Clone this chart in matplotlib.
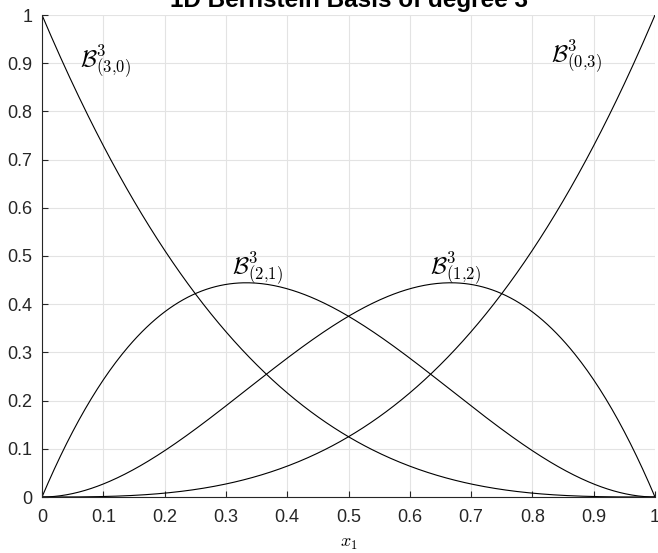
import numpy as np
import matplotlib
matplotlib.use("Agg")
import matplotlib.pyplot as plt
from math import comb

# Bernstein basis of degree 3, index pairs (i, j) with i + j = degree
degree = 3
index_pairs = [(3, 0), (2, 1), (1, 2), (0, 3)]
label_pos = {(3, 0): (0.062, 0.905), (2, 1): (0.31, 0.475),
             (1, 2): (0.633, 0.475), (0, 3): (0.83, 0.915)}
xticks = np.round(np.arange(0, 1.01, 0.1), 1)
yticks = np.round(np.arange(0, 1.01, 0.1), 1)

plt.rcParams["font.family"] = ["Liberation Sans", "DejaVu Sans"]
plt.rcParams["mathtext.fontset"] = "cm"

fig = plt.figure(figsize=(6.58, 5.53), dpi=100)
ax = fig.add_axes([42 / 658, 1 - 497 / 553, 613 / 658, 482 / 553])

x = np.linspace(0, 1, 400)
for (i, j) in index_pairs:
    b = comb(degree, i) * x**j * (1 - x)**i
    ax.plot(x, b, color="black", lw=0.8)
    lx, ly = label_pos[(i, j)]
    ax.text(lx, ly, r"$\mathcal{B}^{%d}_{(%d{,}%d)}$" % (degree, i, j),
            fontsize=17, va="center", ha="left")

ax.set_xlim(0, 1)
ax.set_ylim(0, 1)
ax.set_xticks(xticks)
ax.set_yticks(yticks)
ax.set_xticklabels(["0" if v == 0 else ("1" if v == 1 else f"{v:g}") for v in xticks])
ax.set_yticklabels(["0" if v == 0 else ("1" if v == 1 else f"{v:g}") for v in yticks])
ax.grid(True, color="#e3e3e3", lw=0.8)
ax.set_axisbelow(True)
for s in ["top", "right"]:
    ax.spines[s].set_visible(False)
for s in ["left", "bottom"]:
    ax.spines[s].set_color("#262626")
    ax.spines[s].set_linewidth(0.8)
ax.tick_params(direction="in", length=4, colors="#262626", labelsize=13, width=0.8)
ax.tick_params(axis="x", pad=9)
ax.tick_params(axis="y", pad=7)
ax.set_xlabel(r"$x_1$", fontsize=13, labelpad=6)
fig.text(348.5 / 658, 1 - 7 / 553, "1D Bernstein Basis of degree 3",
         fontweight="bold", fontsize=17.5, ha="center", va="baseline")

fig.savefig("out.png", dpi=100)
